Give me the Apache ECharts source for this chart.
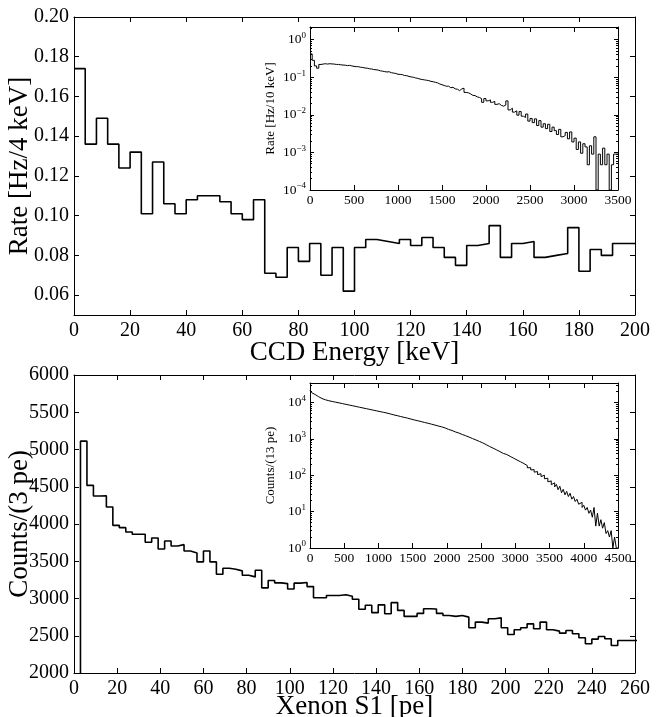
<!DOCTYPE html>
<html><head><meta charset="utf-8">
<script src="https://cdn.jsdelivr.net/npm/echarts@6/dist/echarts.min.js"></script>
<style>html,body{margin:0;padding:0;background:#fff}#c{width:662px;height:717px}</style>
</head><body><div id="c"></div>
<script>
// ---------------- DATA ----------------
// Top main: CCD rate per 4 keV bin, 0..200 keV
const ccdBinWidth = 4;
const ccdRate = [0.174,0.136,0.149,0.136,0.124,0.132,0.101,0.127,0.106,0.101,
  0.108,0.110,0.110,0.107,0.101,0.098,0.108,0.071,0.069,0.084,
  0.077,0.086,0.070,0.084,0.062,0.084,0.088,0.087,0.086,0.088,
  0.085,0.089,0.084,0.079,0.075,0.085,0.086,0.095,0.079,0.086,
  0.087,0.079,0.080,0.081,0.094,0.072,0.083,0.080,0.086,0.086];
const ccdYTicks = [0.06,0.08,0.10,0.12,0.14,0.16,0.18,0.20];

// Top inset: CCD rate [Hz/10 keV], read in 25 keV steps, 0..3500 keV
const ccdInsetBinWidth = 25;
const ccdInsetRate = [0.417,0.282,0.200,0.174,0.219,0.224,0.229,0.224,0.229,0.226,
  0.224,0.219,0.219,0.214,0.211,0.209,0.204,0.207,0.200,0.195,
  0.191,0.191,0.184,0.182,0.176,0.174,0.168,0.166,0.160,0.158,
  0.155,0.148,0.145,0.141,0.138,0.140,0.132,0.129,0.126,0.120,
  0.119,0.117,0.111,0.110,0.105,0.102,0.100,0.0955,0.0933,0.0891,
  0.0871,0.0851,0.0832,0.0813,0.0776,0.0759,0.0733,0.0708,0.0661,0.0631,
  0.0603,0.0575,0.0580,0.0525,0.0540,0.0490,0.0480,0.0440,0.0490,0.0510,
  0.0395,0.0385,0.0360,0.0330,0.0325,0.0300,0.0290,0.0270,0.0215,0.0270,
  0.0235,0.0250,0.0215,0.0228,0.0190,0.0198,0.0178,0.0170,0.0182,0.0235,
  0.0135,0.0150,0.0118,0.0128,0.0098,0.0122,0.0092,0.0085,0.0105,0.0068,
  0.0080,0.0062,0.0078,0.0052,0.0070,0.0047,0.0058,0.0043,0.0056,0.0036,
  0.0047,0.0038,0.0030,0.0041,0.0026,0.0028,0.0034,0.0023,0.0035,0.0019,
  0.0024,0.0012,0.0019,0.00095,0.0017,0.0014,0.00047,0.0015,0.0009,0.0026,
  0.0001,0.0009,0.00047,0.0013,0.00047,0.0009,0.0001,0.00047,0.0009,0.0009];
const ccdInsetYLabels = [1e-4,1e-3,1e-2,1e-1,1];

// Bottom main: Xenon S1 counts per 3 pe bin, 0..261 pe (first bin empty)
const xeBinWidth = 3;
const xeCounts = [0,5112,4518,4375,4380,4228,3982,3951,3893,3862,
  3862,3755,3813,3665,3772,3705,3723,3638,3612,3491,
  3638,3491,3326,3406,3393,3371,3313,3290,3380,3143,
  3242,3210,3200,3128,3206,3215,3160,3010,3010,3040,
  3040,3050,3030,2990,2855,2910,2810,2915,2795,2945,
  2840,2760,2760,2800,2862,2860,2800,2772,2760,2772,
  2750,2607,2683,2670,2728,2740,2607,2517,2580,2607,
  2660,2593,2683,2580,2562,2535,2570,2526,2473,2392,
  2455,2490,2460,2370,2437,2437,2437];
const xeYTicks = [2000,2500,3000,3500,4000,4500,5000,5500,6000];

// Bottom inset: counts/(13 pe), read in 25 pe steps, 0..4500 pe
const xeInsetBinWidth = 25;
const xeInsetCounts = [21400,18600,16600,15100,14500,13600,12900,12300,11900,11500,
  11200,11000,10700,10500,10200,10000,9770,9550,9330,9120,
  8910,8710,8510,8320,8130,7940,7760,7590,7410,7240,
  7080,6920,6760,6610,6460,6310,6170,6030,5890,5750,
  5620,5500,5370,5250,5130,5010,4840,4700,4570,4470,
  4350,4230,4120,4020,3910,3800,3720,3610,3510,3400,
  3310,3230,3150,3060,2990,2910,2830,2760,2690,2620,
  2540,2470,2400,2330,2260,2200,2140,2070,2000,1910,
  1820,1760,1700,1620,1550,1500,1450,1380,1320,1260,
  1220,1170,1120,1070,1020,977,933,891,851,813,
  776,733,692,653,617,589,556,525,501,473,
  447,422,398,385,372,330,330,296,295,262,
  262,236,235,208,210,186,185,160,162,140,
  143,122,126,104,110,92,100,80,83,66,
  70,55,62,48,56,40,50,33,41,29,
  36,26,32,22,26,19,22,16,18,13,
  15,11,13,9,11,7,13,4,9,4,
  6,3.5,5,2.5,3,2,3,1,2,1];
const xeInsetYLabels = [1,10,100,1000,10000];

// ---------------- HELPERS ----------------
const FONT = 'Liberation Serif';
const BLACK = '#000';
function steps(values, width) {
  const pts = values.map((v, i) => [i * width, v]);
  pts.push([values.length * width, values[values.length - 1]]);
  return pts;
}
function minorLog(lo, hi) {
  const out = [];
  for (let e = Math.floor(Math.log10(lo)); e <= Math.ceil(Math.log10(hi)); e++) {
    for (let k = 2; k <= 9; k++) {
      const v = k * Math.pow(10, e);
      if (v > lo && v < hi) out.push(v);
    }
  }
  return out;
}
function powLabel(v) {
  const n = Math.round(Math.log10(v));
  return '{b|10}{s|' + (n < 0 ? '\u2212' + (-n) : n) + '}';
}
function axLine() { return {show: true, onZero: false, lineStyle: {color: BLACK, width: 1}}; }
function tick(len, vals) {
  const t = {show: true, inside: true, length: len, lineStyle: {color: BLACK, width: 1}};
  if (vals) t.customValues = vals;
  return t;
}

function xPair(grid, min, max, interval, fs, margin, name, nameGap, nameFs) {
  return [
    {gridIndex: grid, type: 'value', min, max, interval, position: 'bottom',
      splitLine: {show: false}, axisLine: axLine(), axisTick: tick(5),
      axisLabel: {color: BLACK, fontFamily: FONT, fontSize: fs, margin, formatter: v => String(v)},
      name, nameLocation: 'middle', nameGap, nameMoveOverlap: false,
      nameTextStyle: {color: BLACK, fontFamily: FONT, fontSize: nameFs}},
    {gridIndex: grid, type: 'value', min, max, interval, position: 'top',
      splitLine: {show: false}, axisLine: axLine(), axisTick: tick(5), axisLabel: {show: false}}
  ];
}

const xeInsetMax = 34400;
const ccdInsetMax = 2.17;

const xAxis = [].concat(
  xPair(0, 0, 200, 20, 20, 6, 'CCD Energy [keV]', 24, 27),
  xPair(1, 0, 3500, 500, 13.5, 3, '', 0, 12),
  xPair(2, 0, 260, 20, 20, 6, 'Xenon S1 [pe]', 20, 27),
  xPair(3, 0, 4500, 500, 13.5, 3, '', 0, 12)
);

function linY(grid, min, max, ticks, fmt, name) {
  return [
    {gridIndex: grid, type: 'value', min, max, position: 'left', splitLine: {show: false},
      axisLine: axLine(), axisTick: tick(5, ticks),
      axisLabel: {customValues: ticks, formatter: fmt, color: BLACK, fontFamily: FONT, fontSize: 20, margin: 5},
      name, nameLocation: 'middle', nameGap: 41, nameMoveOverlap: false,
      nameTextStyle: {color: BLACK, fontFamily: FONT, fontSize: 27}},
    {gridIndex: grid, type: 'value', min, max, position: 'right', splitLine: {show: false},
      axisLine: axLine(), axisTick: tick(5, ticks), axisLabel: {show: false}}
  ];
}
function logY(grid, min, max, labels, name) {
  const minors = minorLog(min, max);
  const base = () => ({gridIndex: grid, type: 'log', logBase: 10, min, max, splitLine: {show: false}});
  return [
    Object.assign(base(), {position: 'left', axisLine: axLine(), axisTick: tick(4, labels),
      axisLabel: {customValues: labels, formatter: powLabel, margin: 4, color: BLACK,
        rich: {b: {fontFamily: FONT, fontSize: 13.5, color: BLACK},
               s: {fontFamily: FONT, fontSize: 9, color: BLACK, verticalAlign: 'bottom', padding: [0, 0, 8, 0]}}},
      name, nameLocation: 'middle', nameGap: 33, nameMoveOverlap: false,
      nameTextStyle: {color: BLACK, fontFamily: FONT, fontSize: 13}}),
    Object.assign(base(), {position: 'right', axisLine: axLine(), axisTick: tick(4, labels), axisLabel: {show: false}}),
    Object.assign(base(), {position: 'left', axisLine: {show: false, onZero: false}, axisTick: tick(2, minors), axisLabel: {show: false}}),
    Object.assign(base(), {position: 'right', axisLine: {show: false, onZero: false}, axisTick: tick(2, minors), axisLabel: {show: false}})
  ];
}

const yAxis = [].concat(
  linY(0, 0.05, 0.20, ccdYTicks, v => v.toFixed(2), 'Rate [Hz/4 keV]'),
  logY(1, 1e-4, ccdInsetMax, ccdInsetYLabels, 'Rate [Hz/10 keV]'),
  linY(2, 2000, 6000, xeYTicks, v => String(v), 'Counts/(3 pe)'),
  logY(3, 1, xeInsetMax, xeInsetYLabels, 'Counts/(13 pe)')
);

function hist(values, width, xi, yi, lw) {
  return {type: 'line', xAxisIndex: xi, yAxisIndex: yi, step: 'end', data: steps(values, width),
    showSymbol: false, symbol: 'none', clip: true, silent: true,
    lineStyle: {color: BLACK, width: lw}, z: 5};
}

const gridBase = {containLabel: false, outerBoundsMode: 'none'};
const option = {
  animation: false,
  backgroundColor: '#fff',
  grid: [
    Object.assign({left: 74, top: 17, width: 561, height: 298}, gridBase),
    Object.assign({left: 310, top: 27, width: 308, height: 163, show: true, backgroundColor: '#fff', borderWidth: 0}, gridBase),
    Object.assign({left: 74, top: 375, width: 561, height: 298}, gridBase),
    Object.assign({left: 310, top: 383, width: 308, height: 165, show: true, backgroundColor: '#fff', borderWidth: 0}, gridBase)
  ],
  xAxis, yAxis,
  series: [
    hist(ccdRate, ccdBinWidth, 0, 0, 1.6),
    hist(ccdInsetRate, ccdInsetBinWidth, 2, 2, 1),
    hist(xeCounts, xeBinWidth, 4, 6, 1.6),
    hist(xeInsetCounts, xeInsetBinWidth, 6, 8, 1)
  ]
};
const chart = echarts.init(document.getElementById('c'), null, {renderer: 'canvas'});
chart.setOption(option);
</script></body></html>
